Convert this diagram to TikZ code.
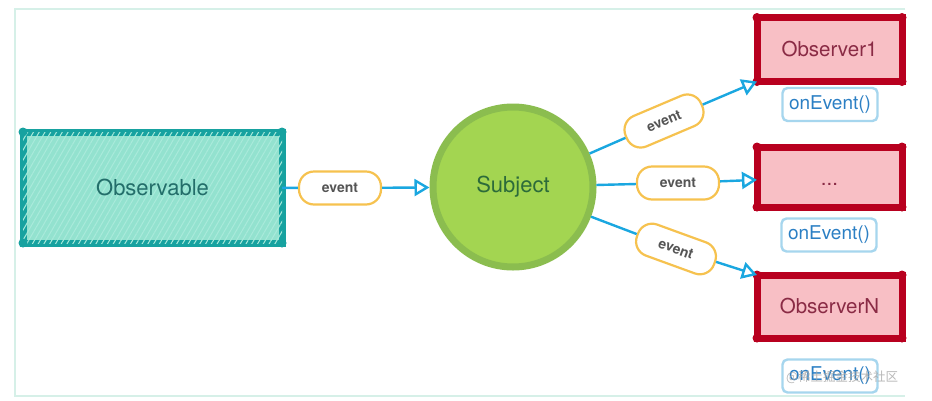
\documentclass[tikz,border=0pt]{standalone}
\usepackage{fontspec}
\setmainfont{TeX Gyre Heros}
\newfontfamily\cjk{Noto Sans CJK SC}
\usetikzlibrary{arrows.meta,patterns.meta}
\definecolor{framec}{HTML}{D6F0E8}
\definecolor{tealb}{HTML}{17A2A0}
\definecolor{tealf}{HTML}{93E2CF}
\definecolor{tealh}{HTML}{A9EADB}
\definecolor{tealt}{HTML}{236E6A}
\definecolor{greenf}{HTML}{A3D551}
\definecolor{greenb}{HTML}{8BBD4F}
\definecolor{greent}{HTML}{2C6B3A}
\definecolor{redb}{HTML}{B8001F}
\definecolor{redf}{HTML}{F8BFC5}
\definecolor{redt}{HTML}{8A2B45}
\definecolor{arrowc}{HTML}{1AA7E0}
\definecolor{pillc}{HTML}{F6C24F}
\definecolor{evtext}{HTML}{555555}
\definecolor{onb}{HTML}{A6D6EE}
\definecolor{ont}{HTML}{2B7FC4}
\begin{document}
\begin{tikzpicture}[x=1pt,y=-1pt,
  obsbox/.style={draw=tealb, line width=7pt, fill=tealf, outer sep=0pt,
    minimum width=259pt, minimum height=111pt, inner sep=0pt,
    postaction={pattern={Lines[angle=60,distance=5pt,line width=1pt]}, pattern color=tealh},
    font=\fontsize{22}{26}\selectfont, text=tealt},
  subjnode/.style={circle, draw=greenb, line width=7pt, fill=greenf,
    minimum size=160pt, inner sep=0pt, font=\fontsize{22}{26}\selectfont, text=greent},
  obsvbox/.style={draw=redb, line width=7pt, fill=redf, outer sep=0pt,
    minimum width=145pt, inner sep=0pt, font=\fontsize{20.5}{24}\selectfont, text=redt},
  pill/.style={draw=pillc, line width=2.2pt, fill=white, rounded corners=15pt,
    minimum width=82pt, minimum height=33pt, inner sep=0pt,
    font=\bfseries\fontsize{14}{16}\selectfont, text=evtext},
  onbox/.style={draw=onb, line width=2.4pt, rounded corners=5pt,
    minimum width=95pt, minimum height=33pt, inner sep=0pt,
    font=\fontsize{19}{22}\selectfont, text=ont},
  flow/.style={draw=arrowc, line width=2.4pt},
  flowarr/.style={flow, -{Triangle[open, length=15pt, width=17pt]}}
]
\useasboundingbox (0,0) rectangle (932,400);
\fill[white] (0,0) rectangle (932,400);
\draw[framec, line width=2.5pt] (905,9) -- (15,9) -- (15,396) -- (905,396);

% nodes
\node[obsbox] (obs) at (152.5,187.5) {Observable};
\node[subjnode] (subj) at (513,187) {Subject};
\node[obsvbox, minimum height=64pt] (o1) at (829.5,49.5) {Observer1};
\node[obsvbox, minimum height=60pt, text height=16pt, text depth=0pt] (omid) at (829.5,177) {...};
\node[obsvbox, minimum height=63pt] (oN) at (829.5,306.5) {ObserverN};
\node[onbox] (on1) at (830,104.5) {onEvent()};
\node[onbox] (on2) at (829,235) {onEvent()};
\node[onbox] (on3) at (830,376) {onEvent()};

\node[pill] (ev1) at (340,188) {event};
\node[pill, rotate=23] (ev2) at (664,121) {event};
\node[pill] (ev3) at (678,183) {event};
\node[pill, rotate=-20] (ev4) at (676,249) {event};

% corner dots
\foreach \n in {north west,north east,south west,south east}{
  \fill[tealb] (obs.\n) circle (4.5pt);
  \fill[redb] (o1.\n) circle (4.5pt);
  \fill[redb] (omid.\n) circle (4.5pt);
  \fill[redb] (oN.\n) circle (4.5pt);
}

% connectors
\draw[flow] (obs) -- (ev1);
\draw[flowarr] (ev1) -- (subj);
\draw[flow] (subj) -- (ev2);
\draw[flowarr] (ev2) -- (o1.south west);
\draw[flow] (subj) -- (ev3);
\draw[flowarr] (ev3) -- (omid);
\draw[flow] (subj) -- (ev4);
\draw[flowarr] (ev4) -- (oN.north west);

% watermark
\node[text=black!35, opacity=0.8, font=\cjk\fontsize{12.5}{15}\selectfont, anchor=west, inner sep=0pt] (wm) at (786,377) {@稀土掘金技术社区};
\end{tikzpicture}
\end{document}
